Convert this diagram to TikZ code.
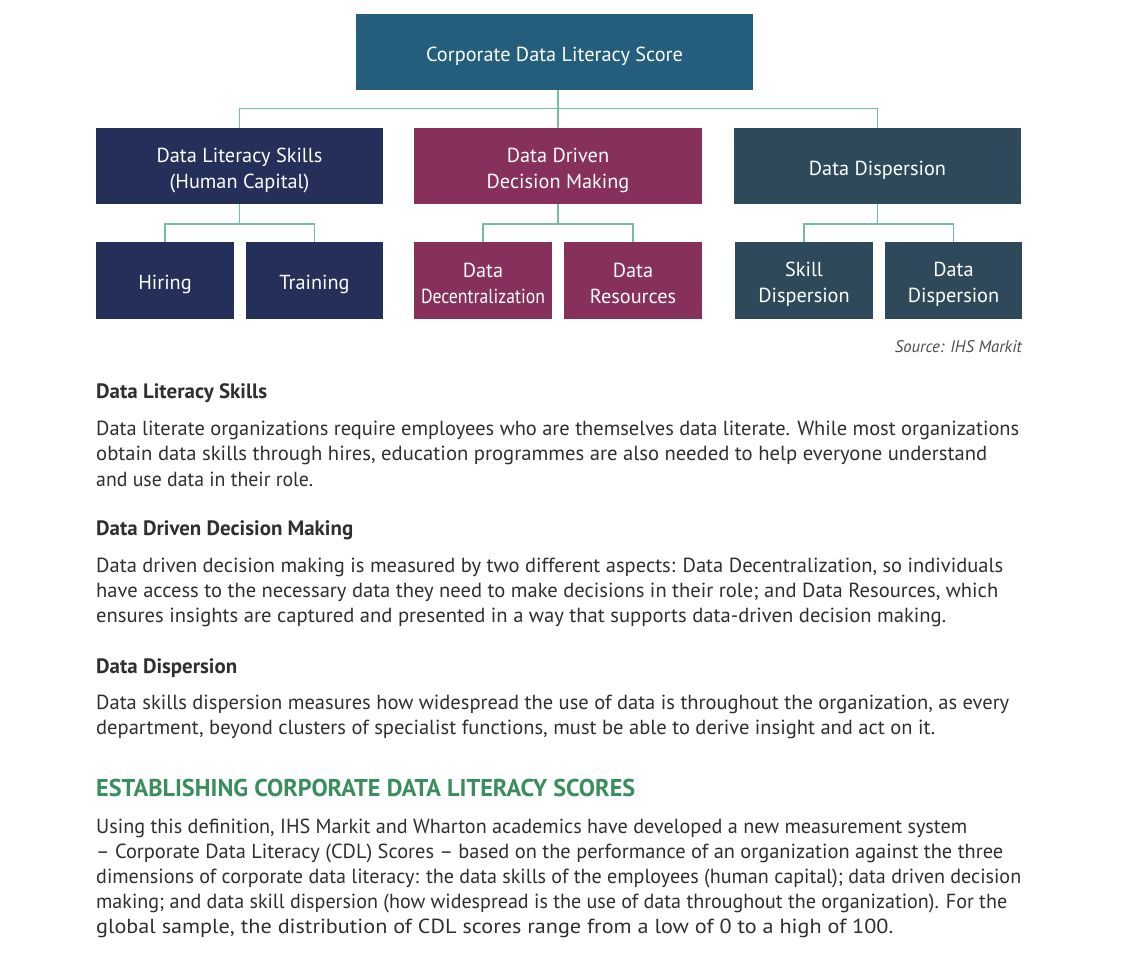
\documentclass[tikz,border=0pt]{standalone}
\usepackage{fontspec}
\usepackage{graphicx}
\setmainfont{PT Sans}
\definecolor{topc}{HTML}{245E7D}
\definecolor{navyc}{HTML}{243059}
\definecolor{maroonc}{HTML}{86305B}
\definecolor{slatec}{HTML}{2E4A5A}
\definecolor{linec}{HTML}{72BE9E}
\definecolor{bodyc}{HTML}{2F2F2F}
\definecolor{greenc}{HTML}{3A8D5C}
\newcommand{\fitw}[2]{\resizebox{#1pt}{\height}{#2}}
\begin{document}
\begin{tikzpicture}[x=1pt,y=-1pt,
  box/.style={rectangle,inner sep=0pt},
  boxtext/.style={inner sep=0pt,text=white,align=center,yshift=-4pt,font=\fontsize{20.3}{26}\selectfont},
  conn/.style={draw=linec,line width=1.2pt},
  bodyline/.style={anchor=base west,inner sep=0pt,text=bodyc,font=\fontsize{20.4}{25}\selectfont},
  headline/.style={anchor=base west,inner sep=0pt,text=bodyc,font=\bfseries\fontsize{20.8}{25}\selectfont}]
\useasboundingbox[fill=white] (0,0) rectangle (1123,954);
% boxes
\node[box,fill=topc,minimum width=397pt,minimum height=76pt,label={[boxtext]center:Corporate Data Literacy Score}] (top) at (554.5,52) {};
\node[box,fill=navyc,minimum width=287pt,minimum height=76pt,label={[boxtext]center:Data Literacy Skills\\(Human Capital)}] (b1) at (239.5,166) {};
\node[box,fill=maroonc,minimum width=288pt,minimum height=76pt,label={[boxtext]center:Data Driven\\Decision Making}] (b2) at (558,166) {};
\node[box,fill=slatec,minimum width=287pt,minimum height=76pt,label={[boxtext]center:Data Dispersion}] (b3) at (877.5,166) {};
\node[box,fill=navyc,minimum width=138pt,minimum height=77pt,label={[boxtext]center:Hiring}] (hir) at (165,280.5) {};
\node[box,fill=navyc,minimum width=137pt,minimum height=77pt,label={[boxtext]center:Training}] (tra) at (314.5,280.5) {};
\node[box,fill=maroonc,minimum width=138pt,minimum height=77pt,label={[boxtext,yshift=1pt]center:Data\\\fitw{124}{Decentralization}}] (dec) at (483,280.5) {};
\node[box,fill=maroonc,minimum width=138pt,minimum height=77pt,label={[boxtext,yshift=1pt]center:Data\\Resources}] (res) at (633,280.5) {};
\node[box,fill=slatec,minimum width=138pt,minimum height=77pt,label={[boxtext]center:Skill\\Dispersion}] (ski) at (804,280.5) {};
\node[box,fill=slatec,minimum width=137pt,minimum height=77pt,label={[boxtext]center:Data\\Dispersion}] (dds) at (953.5,280.5) {};
% connectors
\coordinate (bus0) at (558,108.5);
\coordinate (bus1) at (239.5,224);
\coordinate (bus2) at (558,224);
\coordinate (bus3) at (877.5,224);
\draw[conn] (top.south -| b2.north) -- (b2.north);
\draw[conn] (b1.north) |- (bus0) -| (b3.north);
\draw[conn] (b1.south) -- (bus1);
\draw[conn] (hir.north) |- (bus1) -| (tra.north);
\draw[conn] (b2.south) -- (bus2);
\draw[conn] (dec.north) |- (bus2) -| (res.north);
\draw[conn] (b3.south) -- (bus3);
\draw[conn] (ski.north) |- (bus3) -| (dds.north);
% source
\node[anchor=base east,inner sep=0pt,text=bodyc!85,font=\itshape\fontsize{16.8}{19}\selectfont] (src) at (1022,352) {\fitw{127}{Source: IHS Markit}};
% text
\node[headline] (h1) at (96,398) {\fitw{171}{Data Literacy Skills}};
\node[bodyline] (l11) at (96,435) {\fitw{923}{Data literate organizations require employees who are themselves data literate. While most organizations}};
\node[bodyline] (l12) at (96,460) {\fitw{891}{obtain data skills through hires, education programmes are also needed to help everyone understand}};
\node[bodyline] (l13) at (96,486) {\fitw{217}{and use data in their role.}};
\node[headline] (h2) at (96,535) {\fitw{257}{Data Driven Decision Making}};
\node[bodyline] (l21) at (96,572) {\fitw{907}{Data driven decision making is measured by two different aspects: Data Decentralization, so individuals}};
\node[bodyline] (l22) at (96,597) {\fitw{902}{have access to the necessary data they need to make decisions in their role; and Data Resources, which}};
\node[bodyline] (l23) at (96,622) {\fitw{850}{ensures insights are captured and presented in a way that supports data-driven decision making.}};
\node[headline] (h3) at (96,673) {\fitw{141}{Data Dispersion}};
\node[bodyline] (l31) at (96,709) {\fitw{913}{Data skills dispersion measures how widespread the use of data is throughout the organization, as every}};
\node[bodyline] (l32) at (96,734) {\fitw{839}{department, beyond clusters of specialist functions, must be able to derive insight and act on it.}};
\node[anchor=base west,inner sep=0pt,text=greenc,font=\bfseries\fontsize{24.3}{28}\selectfont] (h4) at (96,796) {\fitw{539}{ESTABLISHING CORPORATE DATA LITERACY SCORES}};
\node[bodyline] (l41) at (96,833) {\fitw{871}{Using this definition, IHS Markit and Wharton academics have developed a new measurement system}};
\node[bodyline] (l42) at (96,858) {\fitw{907}{– Corporate Data Literacy (CDL) Scores – based on the performance of an organization against the three}};
\node[bodyline] (l43) at (96,883) {\fitw{925}{dimensions of corporate data literacy: the data skills of the employees (human capital); data driven decision}};
\node[bodyline] (l44) at (96,908) {\fitw{911}{making; and data skill dispersion (how widespread is the use of data throughout the organization). For the}};
\node[bodyline] (l45) at (96,933) {\fitw{797}{global sample, the distribution of CDL scores range from a low of 0 to a high of 100.}};
\end{tikzpicture}
\end{document}
